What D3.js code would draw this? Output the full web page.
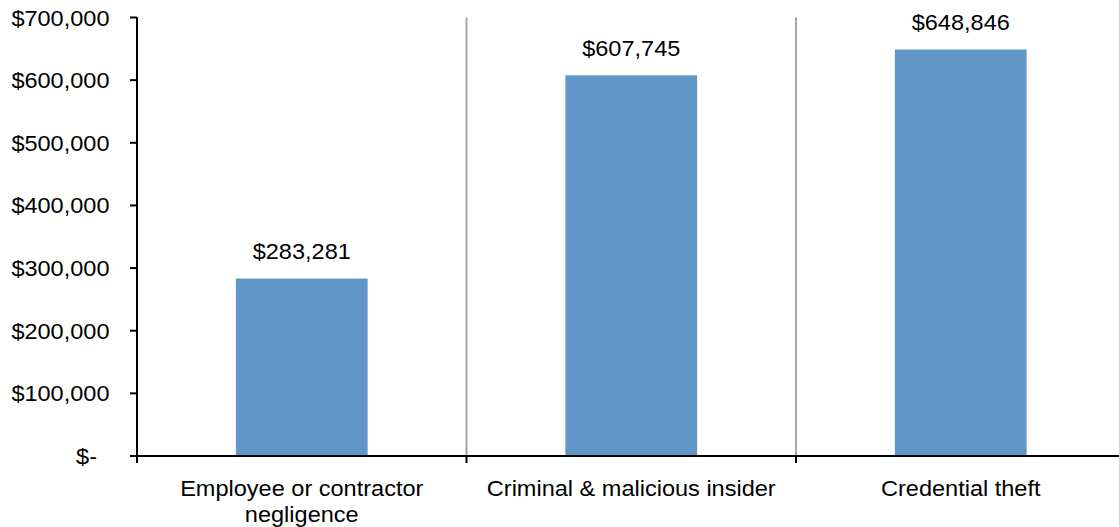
<!DOCTYPE html>
<html>
<head>
<meta charset="utf-8">
<script src="https://cdn.jsdelivr.net/npm/d3@7"></script>
<style>
  html, body { margin: 0; padding: 0; background: #fff; }
  svg { display: block; }
  text { font-family: "Liberation Sans", Arial, sans-serif; font-size: 22px; fill: #000; }
</style>
</head>
<body>
<svg id="chart" width="1119" height="527"></svg>
<script>
// Average cost per incident type
const categories = ["Employee or contractor negligence", "Criminal & malicious insider", "Credential theft"];
const costs = [283281, 607745, 648846];
const yTicks = [0, 100000, 200000, 300000, 400000, 500000, 600000, 700000];

const W = 1119, H = 527;
const margin = { left: 137, top: 17.5, bottom: 71 };
const plotRight = 1125.5;
const stretch = 1.07;           // horizontal widening of the text glyphs
const barColor = "#6196C9";

const svg = d3.select("#chart");

const y = d3.scaleLinear().domain([0, 700000]).range([H - margin.bottom, margin.top]);
const slot = d3.scaleBand().domain(categories).range([margin.left, plotRight]).padding(0);
const x = d3.scaleBand().domain(categories).range([margin.left, plotRight])
  .paddingInner(0.6).paddingOuter(0.3);

const fmtMoney = v => v === 0 ? "$-" : "$" + d3.format(",")(v);

// category separators
svg.append("g").selectAll("line")
  .data(categories.slice(1))
  .join("line")
  .attr("x1", d => slot(d)).attr("x2", d => slot(d))
  .attr("y1", y(700000)).attr("y2", y(0))
  .attr("stroke", "#A6A6A6").attr("stroke-width", 2);

// bars
svg.append("g").selectAll("rect")
  .data(categories)
  .join("rect")
  .attr("x", d => x(d))
  .attr("width", x.bandwidth())
  .attr("y", (d, i) => y(costs[i]))
  .attr("height", (d, i) => y(0) - y(costs[i]))
  .attr("fill", barColor);

// value labels
svg.append("g").selectAll("text")
  .data(categories)
  .join("text")
  .attr("text-anchor", "middle")
  .attr("transform", (d, i) => `translate(${x(d) + x.bandwidth() / 2},${y(costs[i]) - 19.5}) scale(${stretch},1)`)
  .text((d, i) => fmtMoney(costs[i]));

// y axis
const yAxis = svg.append("g");
yAxis.append("line")
  .attr("x1", margin.left).attr("x2", margin.left)
  .attr("y1", y(700000) - 0.5).attr("y2", y(0))
  .attr("stroke", "#000").attr("stroke-width", 2);
yAxis.selectAll("line.tick")
  .data(yTicks)
  .join("line").attr("class", "tick")
  .attr("x1", margin.left - 7).attr("x2", margin.left)
  .attr("y1", d => y(d)).attr("y2", d => y(d))
  .attr("stroke", "#000").attr("stroke-width", 2);
yAxis.selectAll("text")
  .data(yTicks)
  .join("text")
  .attr("text-anchor", "end")
  .attr("transform", d => `translate(${d === 0 ? 97 : 109.5},${y(d) + 8}) scale(${stretch},1)`)
  .text(fmtMoney);

// x axis
const xAxis = svg.append("g");
xAxis.append("line")
  .attr("x1", margin.left).attr("x2", W)
  .attr("y1", y(0)).attr("y2", y(0))
  .attr("stroke", "#000").attr("stroke-width", 2);
xAxis.selectAll("line.tick")
  .data(categories)
  .join("line").attr("class", "tick")
  .attr("x1", d => slot(d)).attr("x2", d => slot(d))
  .attr("y1", y(0)).attr("y2", y(0) + 7)
  .attr("stroke", "#000").attr("stroke-width", 2);

// category labels, wrapped to the slot width
const maxW = 310;
xAxis.selectAll("text.cat")
  .data(categories)
  .join("text").attr("class", "cat")
  .attr("text-anchor", "middle")
  .attr("transform", d => `translate(${slot(d) + slot.bandwidth() / 2},496) scale(${stretch},1)`)
  .each(function (d) {
    const t = d3.select(this);
    const words = d.split(" ");
    let line = [];
    let tspan = t.append("tspan").attr("x", 0).attr("dy", 0);
    words.forEach(w => {
      line.push(w);
      tspan.text(line.join(" "));
      if (tspan.node().getComputedTextLength() * stretch > maxW && line.length > 1) {
        line.pop();
        tspan.text(line.join(" "));
        line = [w];
        tspan = t.append("tspan").attr("x", 0).attr("dy", 26).text(w);
      }
    });
  });
</script>
</body>
</html>
